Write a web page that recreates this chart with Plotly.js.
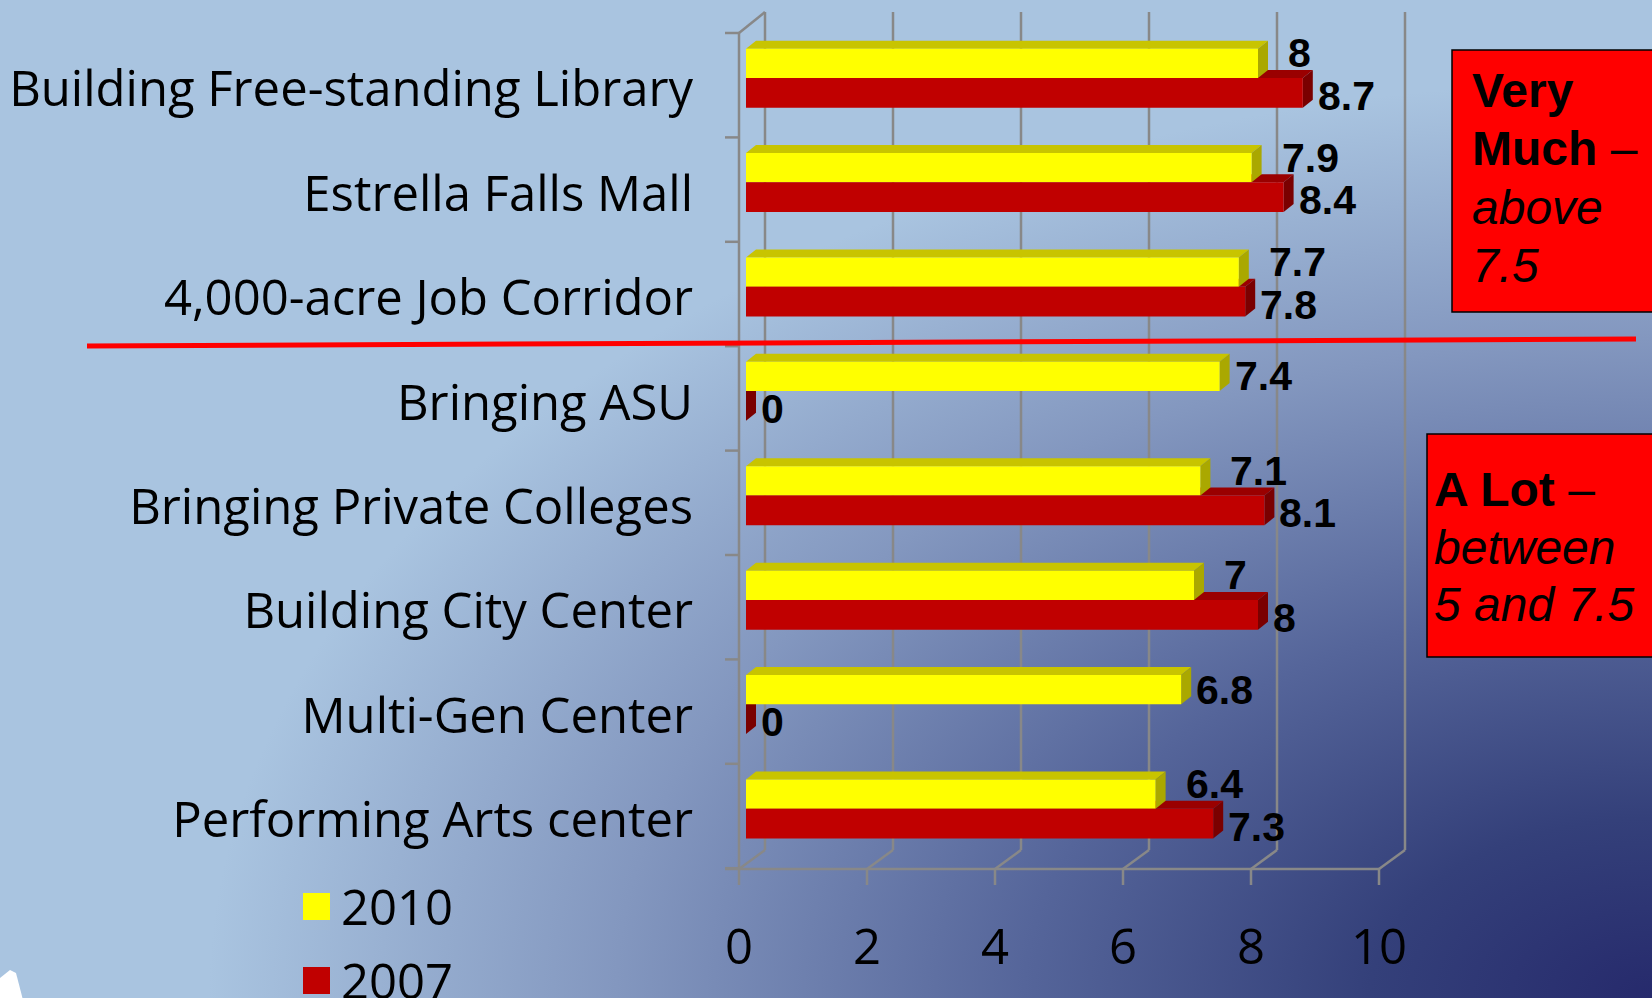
<!DOCTYPE html>
<html><head><meta charset="utf-8">
<script src="https://cdn.plot.ly/plotly-3.0.1.min.js"></script>
<style>
html,body{margin:0;padding:0;width:1652px;height:998px;overflow:hidden;}
body{background:
 radial-gradient(ellipse 95% 100% at 100% 100%, #262a6c 0%, #34407a 18%, #55659a 40%, #8397bf 66%, rgba(169,196,224,0) 92%), #a9c4e0;}
#chart{width:1652px;height:998px;}
</style></head><body><div id="chart"></div>
<script>
// ---- data ----
const categories = ["Building Free-standing Library","Estrella Falls Mall","4,000-acre Job Corridor","Bringing ASU","Bringing Private Colleges","Building City Center","Multi-Gen Center","Performing Arts center"];
const values2010 = [8, 7.9, 7.7, 7.4, 7.1, 7, 6.8, 6.4];
const values2007 = [8.7, 8.4, 7.8, 0, 8.1, 8, 0, 7.3];
const seriesNames = ["2010", "2007"];
const xTickVals = [0, 2, 4, 6, 8, 10];
const boxTopLines = ["<b>Very</b>", "<b>Much</b> –", "<i>above</i>", "<i>7.5</i>"];
const boxBottomLines = ["<b>A Lot</b> –", "<i>between</i>", "<i>5 and 7.5</i>"];

// ---- geometry ----
const W = 1652, H = 998;
const PXU = 64, X0PX = 746;          // pixels per unit, pixel of value 0 (bar front face)
const XMIN = -0.5, XMAX = 10.5;
const L = X0PX + XMIN * PXU, plotW = (XMAX - XMIN) * PXU, R = W - L - plotW;
const BAND = 104.4, Y0PX = 33;       // band height, pixel of top of first band
const T = 6, BOTPX = 886;
const yv = py => -0.5 + (py - Y0PX) / BAND;
const xv = px => (px - X0PX) / PXU;
const yTopVal = yv(T), yBotVal = yv(BOTPX);
const plotH = BOTPX - T, B = H - BOTPX;
const paperX = px => (px - L) / plotW;
const paperY = py => (BOTPX - py) / plotH;

const idx = categories.map((_, i) => i);
const OFF_Y = -0.35, WID_Y = 0.28, OFF_R = -0.07, WID_R = 0.285;
const DX = 10 / PXU, DY = 8 / BAND;
const FRONT = -7 / PXU, BACK = 19 / PXU;

const gridColor = '#888888';
const shapes = [];
function line(x0, y0, x1, y1, extra) {
  shapes.push(Object.assign({type: 'line', xref: 'x', yref: 'y', x0, y0, x1, y1, layer: 'below',
    line: {color: gridColor, width: 2.5}}, extra || {}));
}
// back-wall gridlines and floor slants
const yBackTop = yv(12), yBackBot = yv(850), yFloor = yv(869), yTickEnd = yv(885);
xTickVals.forEach(v => {
  line(v + BACK, yBackTop, v + BACK, yBackBot);
  line(v + BACK, yBackBot, v + FRONT, yFloor);
  line(v + FRONT, yFloor, v + FRONT, yTickEnd);
});
// front floor edge
line(xv(725), yFloor, xTickVals[xTickVals.length - 1] + FRONT, yFloor);
// front left axis and top slant
line(FRONT, -0.5, FRONT, yFloor);
line(FRONT, -0.5, BACK, yBackTop);
// left tick marks at band boundaries
for (let k = 0; k <= categories.length; k++) line(xv(725), k - 0.5, FRONT, k - 0.5);

// 3D faces
function faces(vals, off, wid, topC, sideC) {
  vals.forEach((v, i) => {
    const y0 = i + off, y1 = y0 + wid;
    shapes.push({type: 'path', xref: 'x', yref: 'y', layer: 'below', line: {width: 0}, fillcolor: topC,
      path: `M0,${y0} L${v},${y0} L${v + DX},${y0 - DY} L${DX},${y0 - DY} Z`});
    shapes.push({type: 'path', xref: 'x', yref: 'y', layer: 'below', line: {width: 0}, fillcolor: sideC,
      path: `M${v},${y0} L${v + DX},${y0 - DY} L${v + DX},${y1 - DY} L${v},${y1} Z`});
  });
}
faces(values2007, OFF_R, WID_R, '#9a0000', '#7a0000');
faces(values2010, OFF_Y, WID_Y, '#c8c400', '#aaa800');

// red divider line
shapes.push({type: 'line', xref: 'paper', yref: 'paper', x0: paperX(87), y0: paperY(346), x1: paperX(1636), y1: paperY(339),
  line: {color: '#ff0000', width: 5}, layer: 'above'});
// boxes
shapes.push({type: 'rect', xref: 'paper', yref: 'paper', x0: paperX(1452), y0: paperY(50), x1: paperX(1680), y1: paperY(312),
  fillcolor: '#ff0000', line: {color: '#000000', width: 1.5}, layer: 'above'});
shapes.push({type: 'rect', xref: 'paper', yref: 'paper', x0: paperX(1427), y0: paperY(434), x1: paperX(1680), y1: paperY(657),
  fillcolor: '#ff0000', line: {color: '#000000', width: 1.5}, layer: 'above'});
// white corner blob
shapes.push({type: 'path', xref: 'paper', yref: 'paper', fillcolor: '#ffffff', line: {width: 0}, layer: 'above',
  path: `M${paperX(0)},${paperY(1000)} L${paperX(0)},${paperY(978)} L${paperX(10)},${paperY(970)} L${paperX(16)},${paperY(973)} L${paperX(23)},${paperY(1000)} Z`});

// legend squares (larger than plotly's legend glyphs)
const legY = [893, 967];
['#ffff00', '#c00000'].forEach((c, k) => {
  shapes.push({type: 'rect', xref: 'paper', yref: 'paper', x0: paperX(303), x1: paperX(330), y0: paperY(legY[k]), y1: paperY(legY[k] + 27),
    fillcolor: c, line: {width: 0}, layer: 'above'});
});

// value labels
const labFont = {family: 'Liberation Sans, Arial, sans-serif', size: 41, color: '#000'};
const annotations = [];
idx.forEach(i => {
  const hasRed = values2007[i] > 0;
  annotations.push({x: values2010[i], y: i + OFF_Y + WID_Y / 2, xref: 'x', yref: 'y', text: '<b>' + values2010[i] + '</b>',
    showarrow: false, xanchor: 'left', yanchor: 'middle', xshift: hasRed ? 28 : 13, yshift: hasRed ? 10 : 0, font: labFont});
  annotations.push({x: values2007[i], y: i + OFF_R + WID_R / 2, xref: 'x', yref: 'y', text: '<b>' + values2007[i] + '</b>',
    showarrow: false, xanchor: 'left', yanchor: 'middle', xshift: 13, yshift: -3, font: labFont});
});
const boxFont = {family: 'Liberation Sans, Arial, sans-serif', size: 48, color: '#000'};
const topCenters = [91, 149, 207, 265];
boxTopLines.forEach((t, k) => annotations.push({xref: 'paper', yref: 'paper', x: paperX(1470), y: paperY(topCenters[k]),
  xanchor: 'left', yanchor: 'middle', align: 'left', showarrow: false, text: t, font: boxFont}));
const botCenters = [489, 547, 604];
boxBottomLines.forEach((t, k) => annotations.push({xref: 'paper', yref: 'paper', x: paperX(1432), y: paperY(botCenters[k]),
  xanchor: 'left', yanchor: 'middle', align: 'left', showarrow: false, text: t, font: boxFont}));

const catFont = {family: 'Open Sans, Noto Sans, sans-serif', size: 49, color: '#000'};
const traces = [
  {type: 'bar', orientation: 'h', name: seriesNames[0], x: values2010, y: idx, offset: OFF_Y, width: WID_Y,
   marker: {color: '#ffff00', line: {width: 0}}, legendgroup: 'a', hoverinfo: 'x'},
  {type: 'bar', orientation: 'h', name: seriesNames[1], x: values2007, y: idx, offset: OFF_R, width: WID_R,
   marker: {color: '#c00000', line: {width: 0}}, legendgroup: 'b', hoverinfo: 'x'}
];
const layout = {
  width: W, height: H,
  margin: {l: L, r: R, t: T, b: B, autoexpand: false},
  paper_bgcolor: 'rgba(0,0,0,0)', plot_bgcolor: 'rgba(0,0,0,0)',
  barmode: 'overlay',
  showlegend: true,
  legend: {x: paperX(301), xanchor: 'left', y: paperY(868), yanchor: 'top', bgcolor: 'rgba(0,0,0,0)',
    font: catFont, tracegroupgap: 7, traceorder: 'grouped'},
  xaxis: {range: [XMIN, XMAX], tickvals: xTickVals, ticktext: xTickVals.map(String), showgrid: false, zeroline: false,
    showline: false, ticks: '', tickfont: catFont, ticklabelshift: -7, ticklabelstandoff: 28, fixedrange: true},
  yaxis: {range: [yBotVal, yTopVal], tickvals: idx, ticktext: categories, showgrid: false, zeroline: false,
    showline: false, ticks: '', tickfont: catFont, ticklabelstandoff: 20, ticklabelshift: -4, fixedrange: true},
  shapes, annotations
};
Plotly.newPlot('chart', traces, layout, {displayModeBar: false, staticPlot: true});
</script></body></html>
